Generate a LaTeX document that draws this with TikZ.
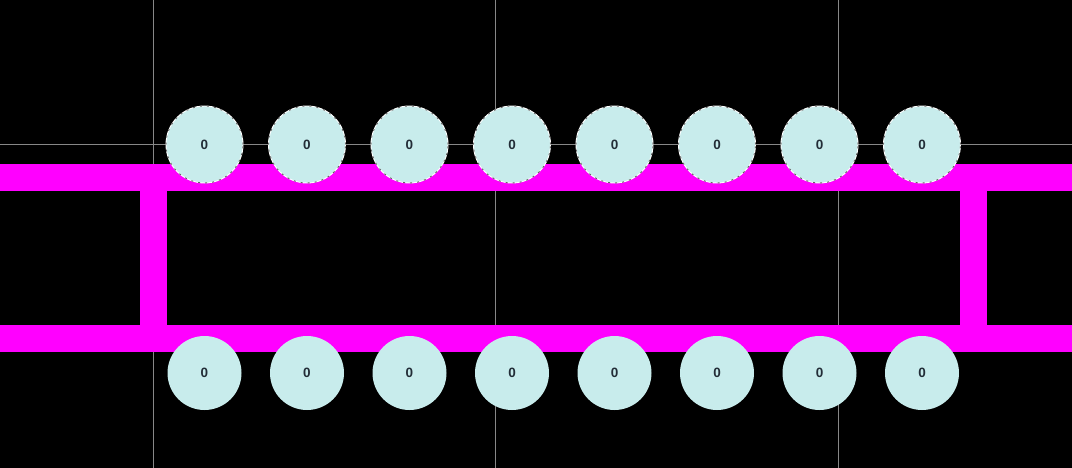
\documentclass[tikz,border=0pt]{standalone}
\usepackage{fontspec}
\setmainfont{Liberation Sans}
\definecolor{pad}{RGB}{200,236,236}
\definecolor{track}{RGB}{255,0,255}
\definecolor{gridc}{RGB}{135,135,135}
\definecolor{padtext}{RGB}{35,45,55}
\tikzset{
  gridline/.style={draw=gridc,line width=1.1pt},
  band/.style={fill=track,draw=none},
  padbase/.style={circle,fill=pad,inner sep=0pt,text=padtext,font=\fontsize{13.5}{13.5}\selectfont\bfseries},
  toppad/.style={padbase,minimum size=77pt,draw=white,line width=0.9pt,
    postaction={draw=black!60,line width=0.9pt,dash pattern=on 2pt off 5pt}},
  botpad/.style={padbase,minimum size=74pt},
}
\begin{document}
\begin{tikzpicture}[x=1pt,y=-1pt]
\useasboundingbox (0,0) rectangle (1072,468);
\fill[black] (0,0) rectangle (1072,468);
\draw[gridline] (153.5,0) -- (153.5,468);
\draw[gridline] (495.5,0) -- (495.5,468);
\draw[gridline] (838.5,0) -- (838.5,468);
\draw[gridline] (0,144.5) -- (1072,144.5);
\fill[band] (0,164) rectangle (1072,191);
\fill[band] (0,325) rectangle (1072,352);
\fill[band] (140,164) rectangle (167,352);
\fill[band] (960,164) rectangle (987,352);
\foreach \i/\x in {1/204.5,2/307,3/409.5,4/512,5/614.5,6/717,7/819.5,8/922}{
  \node[toppad] (t\i) at (\x,144.5) {0};
  \node[botpad] (b\i) at (\x,373) {0};
}
\end{tikzpicture}
\end{document}
